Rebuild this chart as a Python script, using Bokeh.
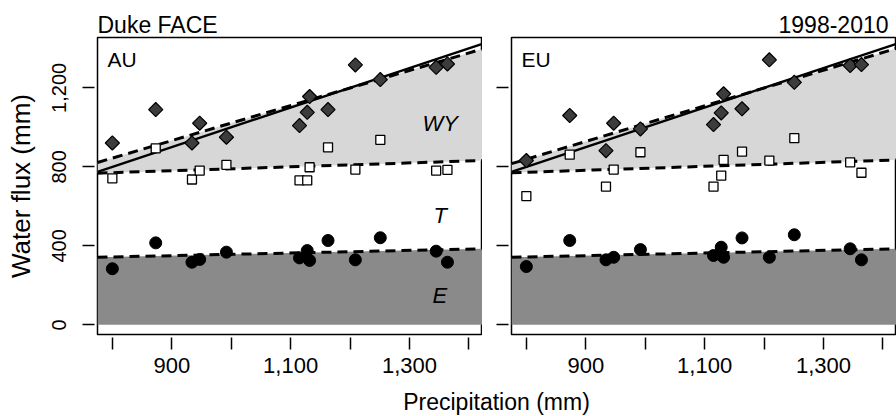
import math
from bokeh.plotting import figure
from bokeh.layouts import column, row
from bokeh.models import FixedTicker, Range1d
from bokeh.core.properties import value
from bokeh.embed import file_html
from bokeh.resources import INLINE

FONT = "Liberation Sans"

# ---- data ----
precip = [800, 873, 934, 947, 992, 1115, 1128, 1132, 1163, 1209, 1251, 1345, 1364]

au_top = [921, 1090, 921, 1021, 950, 1009, 1076, 1156, 1090, 1316, 1242, 1304, 1321]
au_mid = [742, 894, 736, 781, 810, 731, 731, 798, 899, 786, 937, 781, 785]
au_low = [284, 415, 317, 331, 368, 339, 376, 326, 427, 329, 441, 373, 317]

eu_top = [832, 1060, 882, 1021, 992, 1014, 1073, 1170, 1094, 1342, 1228, 1313, 1318]
eu_mid = [652, 862, 700, 786, 874, 700, 756, 835, 877, 832, 945, 823, 770]
eu_low = [295, 427, 329, 342, 381, 351, 393, 342, 440, 342, 456, 385, 329]

# fitted lines, values at the two ends of the precipitation axis
fit_x = [775, 1423]
au_fit_top = [822, 1397]
au_fit_mid = [768, 832]
au_fit_low = [342, 385]
eu_fit_top = [816, 1400]
eu_fit_mid = [770, 835]
eu_fit_low = [342, 385]
zero = [0, 0]

x_label_ticks = [900, 1100, 1300]
x_plain_ticks = [800, 1000, 1200, 1400]
x_tick_labels = ["900", "1,100", "1,300"]
y_ticks = [0, 400, 800, 1200]
y_tick_labels = ["0", "400", "800", "1,200"]

area_labels = ["WY", "T", "E"]
area_label_x = [1352, 1352, 1351]
area_label_y = [1017, 556, 151]

TOP = 36      # height of the title strip
BOTTOM = 54   # space below each panel frame for the x tick labels


def style_ticks(ax):
    ax.axis_line_color = None
    for pre in ("major", "minor"):
        setattr(ax, pre + "_tick_in", -3)
        setattr(ax, pre + "_tick_out", 15)
        setattr(ax, pre + "_tick_line_width", 1.5)
        setattr(ax, pre + "_tick_line_color", "black")
    ax.major_label_text_font = FONT
    ax.major_label_text_color = "black"


def make_panel(name, top, mid, low, fit_top, fit_mid, fit_low, left_border,
               show_ylabels, labels):
    p = figure(frame_width=385, frame_height=297, title=None,
               x_range=Range1d(775, 1423), y_range=Range1d(-49, 1455),
               min_border_left=left_border, min_border_right=0,
               min_border_top=1, min_border_bottom=BOTTOM,
               output_backend="svg", toolbar_location=None)
    p.grid.visible = False
    p.outline_line_color = "black"
    p.outline_line_width = 1.5
    p.background_fill_color = "white"
    p.border_fill_color = "white"

    # shaded areas
    p.varea(x=fit_x, y1=zero, y2=fit_low, fill_color="#8a8a8a")
    p.varea(x=fit_x, y1=fit_mid, y2=fit_top, fill_color="#d7d7d7")

    # 1:1 precipitation line
    p.line(x=fit_x, y=fit_x, line_color="black", line_width=2.4)
    # fitted lines
    for f in (fit_top, fit_mid, fit_low):
        p.line(x=fit_x, y=f, line_color="black", line_width=3,
               line_dash="10 6")

    p.scatter(x=precip, y=low, marker="circle", size=12,
              fill_color="black", line_color="black")
    p.scatter(x=precip, y=mid, marker="square", size=9,
              fill_color="white", line_color="black", line_width=1.3)
    p.scatter(x=precip, y=top, marker="square", size=10, angle=math.pi / 4,
              fill_color="#3c3c3c", line_color="black", line_width=1.2)

    p.text(x=[792], y=[1345], text=[name], text_font=value(FONT),
           text_font_size="21px", text_baseline="alphabetic",
           text_align="left", text_color="black")
    if labels:
        p.text(x=area_label_x, y=area_label_y, text=area_labels,
               text_font=value(FONT), text_font_size="22px",
               text_font_style="italic", text_baseline="alphabetic",
               text_align="center", text_color="black")

    # x axis: labelled major ticks, unlabelled ticks as minor ticks
    xa = p.xaxis[0]
    xa.ticker = FixedTicker(ticks=x_label_ticks, minor_ticks=x_plain_ticks)
    xa.major_label_overrides = dict(zip(x_label_ticks, x_tick_labels))
    style_ticks(xa)
    xa.major_label_text_font_size = "22px"
    xa.major_label_standoff = 8

    ya = p.yaxis[0]
    style_ticks(ya)
    if show_ylabels:
        ya.ticker = FixedTicker(ticks=y_ticks, minor_ticks=[])
        ya.major_label_overrides = dict(zip(y_ticks, y_tick_labels))
        ya.major_label_orientation = "vertical"
        ya.major_label_text_font_size = "20px"
        ya.major_label_standoff = 16
        ya.axis_label = "Water flux (mm)"
        ya.axis_label_text_font = FONT
        ya.axis_label_text_font_size = "26px"
        ya.axis_label_text_font_style = "normal"
        ya.axis_label_text_color = "black"
        ya.axis_label_standoff = 14
    else:
        ya.ticker = FixedTicker(ticks=[], minor_ticks=y_ticks)
    return p


p1 = make_panel("AU", au_top, au_mid, au_low, au_fit_top, au_fit_mid,
                au_fit_low, 97, True, True)
p2 = make_panel("EU", eu_top, eu_mid, eu_low, eu_fit_top, eu_fit_mid,
                eu_fit_low, 29, False, False)


def strip(h):
    s = figure(width=896, height=h, x_range=Range1d(0, 896), y_range=Range1d(0, h),
               min_border=0, output_backend="svg", toolbar_location=None)
    s.axis.visible = False
    s.grid.visible = False
    s.outline_line_color = None
    return s


# title strip
p0 = strip(TOP)
p0.text(x=[97], y=[12], text=["Duke FACE"], text_font=value(FONT),
        text_font_size="23px", text_align="left", text_baseline="alphabetic",
        text_color="black")
p0.text(x=[888], y=[12], text=["1998-2010"], text_font=value(FONT),
        text_font_size="23px", text_align="right", text_baseline="alphabetic",
        text_color="black")

# x axis title strip
h3 = 416 - TOP - 1 - 297 - BOTTOM
p3 = strip(h3)
p3.text(x=[496], y=[15], text=["Precipitation (mm)"], text_font=value(FONT),
        text_font_size="23px", text_align="center", text_baseline="alphabetic",
        text_color="black")

layout = column(p0, row(p1, p2), p3)
open("out.html", "w").write(file_html(layout, INLINE))
